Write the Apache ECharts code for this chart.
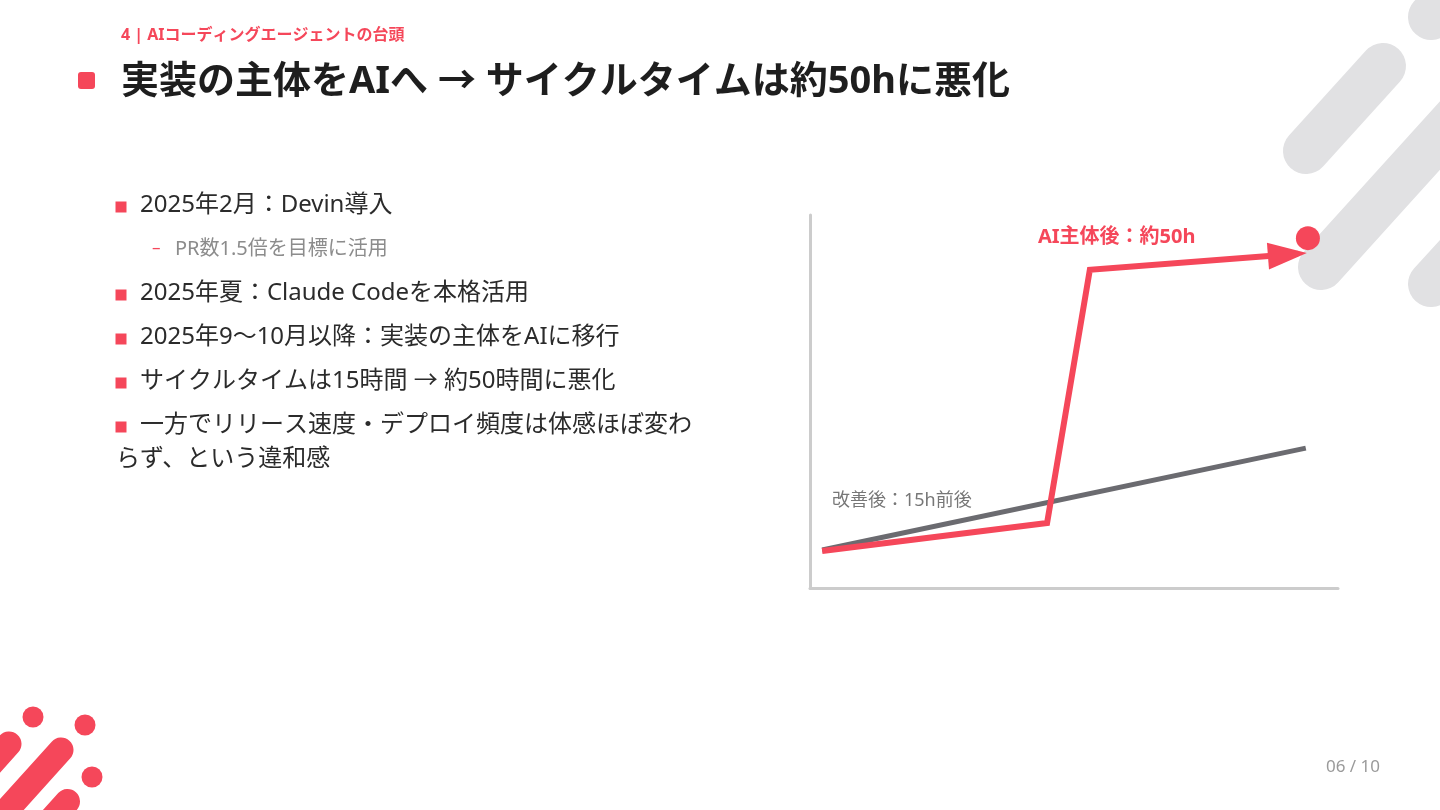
<!DOCTYPE html>
<html lang="ja">
<head>
<meta charset="utf-8">
<title>実装の主体をAIへ</title>
<script src="https://cdn.jsdelivr.net/npm/echarts@6/dist/echarts.min.js"></script>
<style>
  html, body { margin: 0; padding: 0; background: #fff; }
  #chart { width: 1440px; height: 810px; }
</style>
</head>
<body>
<div id="chart"></div>
<script>
const FONT = '"Noto Sans", "Noto Sans CJK JP", sans-serif';
const RED = '#f5475a';
const GRAY_LINE = '#6b6b70';
const DECO_GRAY = '#e1e1e3';

// chart data (abstract time on x, cycle time on y, both 0-100)
const improvedX = [2.3, 93.9];
const improvedY = [10.2, 37.5];
const aiX = [2.3, 44.9, 53.0, 92.4];
const aiY = [9.9, 17.4, 85.3, 89.6];
const goalX = [94.3];
const goalY = [93.8];

// texts
const sectionLabel = '4 | AIコーディングエージェントの台頭';
const titleText = '実装の主体をAIへ → サイクルタイムは約50hに悪化';
const bulletTexts = [
  '2025年2月：Devin導入',
  '2025年夏：Claude Codeを本格活用',
  '2025年9〜10月以降：実装の主体をAIに移行',
  'サイクルタイムは15時間 → 約50時間に悪化',
  '一方でリリース速度・デプロイ頻度は体感ほぼ変わ'
];
const bulletWrap = 'らず、という違和感';
const subBullet = 'PR数1.5倍を目標に活用';
const labelAI = 'AI主体後：約50h';
const labelImproved = '改善後：15h前後';
const pageText = '06 / 10';

const toPairs = (xs, ys) => xs.map((x, i) => [x, ys[i]]);

function text(x, y, str, size, color, weight) {
  return {
    type: 'text', x: x, y: y, z: 10, silent: true,
    style: {
      text: str, fill: color,
      font: (weight || 'normal') + ' ' + size + 'px ' + FONT,
      align: 'left', textAlign: 'left',
      verticalAlign: 'middle', textVerticalAlign: 'middle'
    }
  };
}

function bar(x1, y1, x2, y2, w, color) {
  return {
    type: 'line', z: 0, silent: true,
    shape: { x1: x1, y1: y1, x2: x2, y2: y2 },
    style: { stroke: color, lineWidth: w, lineCap: 'round' }
  };
}

function dot(cx, cy, r, color) {
  return { type: 'circle', z: 0, silent: true, shape: { cx: cx, cy: cy, r: r }, style: { fill: color } };
}

function square(x, y, s, color, r) {
  return { type: 'rect', z: 10, silent: true, shape: { x: x, y: y, width: s, height: s, r: r || 0 }, style: { fill: color } };
}

const bulletY = [203, 291, 335, 379, 423];

const graphics = [
  // top-right decoration
  bar(1306, 151, 1383, 66, 46, DECO_GRAY),
  bar(1321, 267, 1540, 25, 46, DECO_GRAY),
  bar(1431, 17, 1520, -82, 46, DECO_GRAY),
  bar(1431, 284, 1520, 186, 46, DECO_GRAY),
  // bottom-left decoration
  bar(9, 744, -80, 843, 25, RED),
  bar(61, 750, -40, 862, 25, RED),
  bar(67.5, 801.5, 0, 876, 25, RED),
  dot(33, 717, 10.5, RED),
  dot(85, 725, 10.5, RED),
  dot(92, 777, 10.5, RED),
  // header
  text(121, 35, sectionLabel, 16, RED, 'bold'),
  square(78, 72, 17, RED, 3),
  text(121, 82, titleText, 38, '#1e1e1e', 'bold'),
  // sub bullet
  text(152, 248, '–', 17, RED),
  text(175, 249, subBullet, 20, '#8c8c8c'),
  text(116, 459, bulletWrap, 24, '#2b2b2b'),
  // chart labels
  text(1038, 237, labelAI, 20, RED, 'bold'),
  text(832, 501, labelImproved, 18, '#777777'),
  // page number
  text(1326, 767, pageText, 17, '#9a9a9a')
];
bulletTexts.forEach((t, i) => {
  graphics.push(square(115.5, bulletY[i] - 1.5, 11, RED));
  graphics.push(text(140, bulletY[i] + 2, t, 24, '#2b2b2b'));
});

const chart = echarts.init(document.getElementById('chart'), null, { renderer: 'canvas' });

const axisStyle = {
  show: true,
  lineStyle: { color: '#cccccc', width: 3 }
};

const option = {
  animation: false,
  backgroundColor: '#ffffff',
  grid: { left: 810, right: 102, top: 215, bottom: 222 },
  xAxis: {
    type: 'value', min: 0, max: 100,
    axisLine: axisStyle, axisTick: { show: false },
    axisLabel: { show: false }, splitLine: { show: false }
  },
  yAxis: {
    type: 'value', min: 0, max: 100,
    axisLine: axisStyle, axisTick: { show: false },
    axisLabel: { show: false }, splitLine: { show: false }
  },
  graphic: { elements: graphics },
  series: [
    {
      name: '改善後', type: 'line', z: 3, silent: true,
      data: toPairs(improvedX, improvedY),
      showSymbol: false,
      lineStyle: { color: GRAY_LINE, width: 5 }
    },
    {
      name: 'AI主体後', type: 'line', z: 4, silent: true,
      data: toPairs(aiX, aiY),
      showSymbol: false,
      lineStyle: { color: RED, width: 6, join: 'miter' }
    },
    {
      name: 'arrow', type: 'scatter', z: 5, silent: true,
      data: [],
      symbol: 'triangle',
      symbolSize: [27, 39],
      itemStyle: { color: RED, opacity: 1 }
    },
    {
      name: 'goal', type: 'scatter', z: 6, silent: true,
      data: toPairs(goalX, goalY),
      symbolSize: 24,
      itemStyle: { color: RED, opacity: 1 }
    }
  ]
};

chart.setOption(option);

// orient the arrowhead along the last red segment
const n = aiX.length;
const pA = chart.convertToPixel({ gridIndex: 0 }, [aiX[n - 2], aiY[n - 2]]);
const pB = chart.convertToPixel({ gridIndex: 0 }, [aiX[n - 1], aiY[n - 1]]);
const dx = pB[0] - pA[0];
const dy = pB[1] - pA[1];
const len = Math.sqrt(dx * dx + dy * dy);
const ux = dx / len, uy = dy / len;
const angle = Math.atan2(-dy, dx) * 180 / Math.PI;
const reach = 9;        // tip sits this far past the line end
const half = 39 / 2;
chart.setOption({
  series: [{}, {}, {
    data: [[aiX[n - 1], aiY[n - 1]]],
    symbolRotate: angle - 90,
    symbolOffset: [(reach - half) * ux, (reach - half) * uy]
  }, {}]
});

window.addEventListener('resize', () => chart.resize());
</script>
</body>
</html>
